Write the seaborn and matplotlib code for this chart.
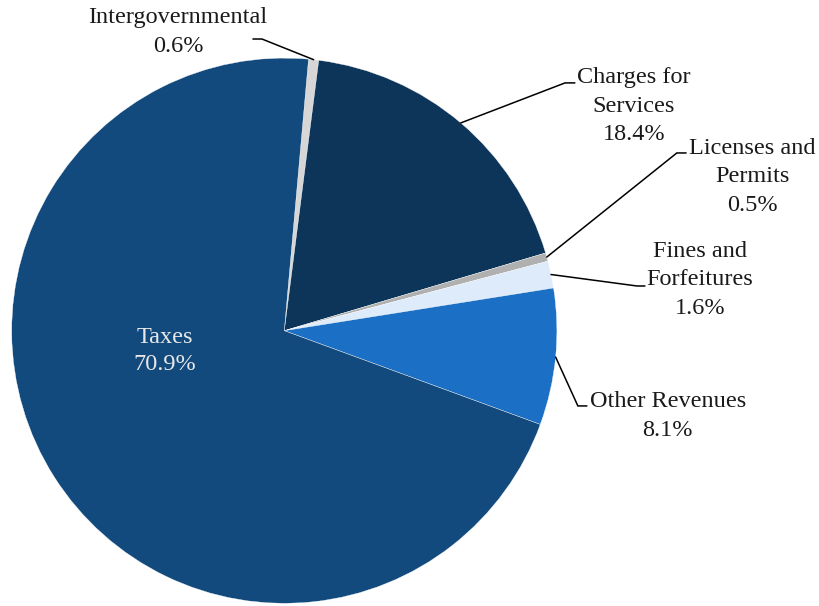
import numpy as np
import matplotlib
matplotlib.use("Agg")
import matplotlib.pyplot as plt
import seaborn as sns

# ---- data ----
categories = ["Intergovernmental", "Charges for Services", "Licenses and Permits",
              "Fines and Forfeitures", "Other Revenues", "Taxes"]
label_text = ["Intergovernmental", "Charges for\nServices", "Licenses and\nPermits",
              "Fines and\nForfeitures", "Other Revenues", "Taxes"]
values = [0.6, 18.4, 0.5, 1.6, 8.1, 70.9]
pct_labels = ["0.6%", "18.4%", "0.5%", "1.6%", "8.1%", "70.9%"]

# ---- style / layout ----
colors = ["#d6d6d6", "#0c3559", "#b0b0b0", "#deebfa", "#1b6fc4", "#124a7e"]
# text block centre, elbow, end of horizontal stub (data units, pie radius = 1)
text_pos = [(-0.390, 1.096), (1.283, 0.824), (1.716, 0.564),
            (1.525, 0.186), (1.407, -0.313), (-0.438, -0.074)]
elbows = [(-0.082, 1.070), (1.030, 0.909), (1.440, 0.652),
          (1.294, 0.164), (1.077, -0.276), None]
stubs = [(-0.115, 1.070), (1.066, 0.909), (1.474, 0.652),
         (1.323, 0.164), (1.110, -0.276), None]

sns.set_theme(style="white")
plt.rcParams['font.family'] = ['Liberation Serif', 'DejaVu Serif']

fig = plt.figure(figsize=(8.19, 6.06), dpi=100)
ax = fig.add_axes([0, 0, 1, 1])
wedges, _ = ax.pie(values, colors=colors, startangle=84.9, counterclock=False,
                   radius=1.0, center=(0, 0),
                   wedgeprops=dict(edgecolor="white", linewidth=0.25))
ax.set_aspect('auto')
ax.set_xlim(-1.0429, 1.9615)
ax.set_ylim(-1.0099, 1.2131)
ax.axis('off')

fs = 17.5
for i, w in enumerate(wedges):
    txt = label_text[i] + "\n" + pct_labels[i]
    tx, ty = text_pos[i]
    if elbows[i] is None:
        ax.text(tx, ty, txt, ha="center", va="center", fontsize=fs,
                color="#e8e8e8", linespacing=1.4)
        continue
    ax.text(tx, ty, txt, ha="center", va="center", fontsize=fs,
            color="#1a1a1a", linespacing=1.45, clip_on=False)
    mid = np.deg2rad((w.theta1 + w.theta2) / 2)
    sx, sy = np.cos(mid), np.sin(mid)
    ex, ey = elbows[i]
    hx, hy = stubs[i]
    ax.plot([sx, ex, hx], [sy, ey, hy], color="black", lw=1.1,
            solid_joinstyle="miter", clip_on=False)

fig.savefig("out.png", dpi=100, facecolor="white")
